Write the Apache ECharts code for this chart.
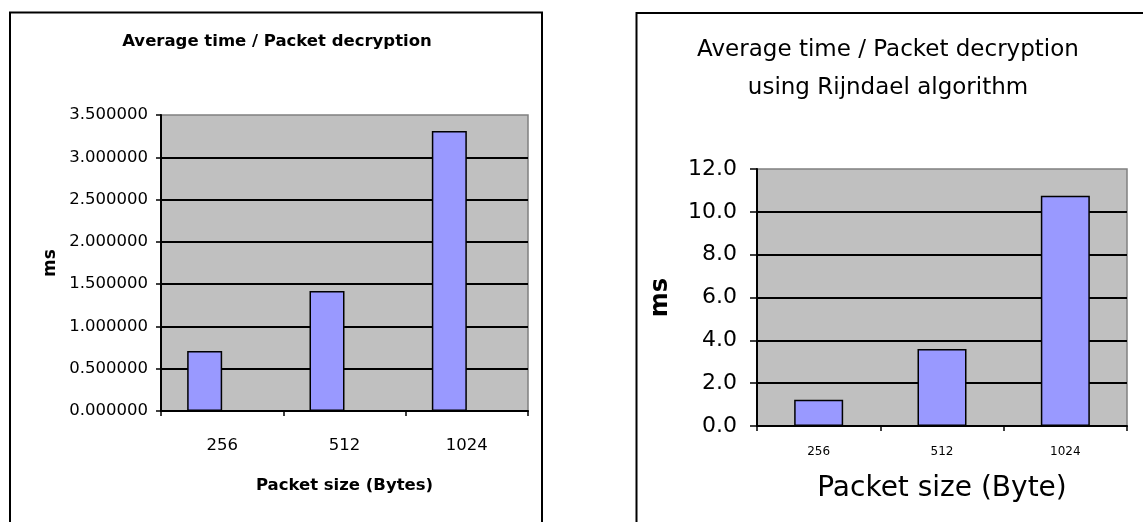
<!DOCTYPE html>
<html>
<head>
<meta charset="utf-8">
<script src="https://cdn.jsdelivr.net/npm/echarts@6/dist/echarts.min.js"></script>
<style>
html,body{margin:0;padding:0;background:#fff;}
#c{width:1143px;height:522px;}
</style>
</head>
<body>
<div id="c"></div>
<script>
// Left chart data
const leftCategories = ['256', '512', '1024'];
const leftValues = [0.71, 1.42, 3.31];
const leftEmptySeries = [null, null, null];
const leftYMin = 0, leftYMax = 3.5, leftYStep = 0.5;

// Right chart data
const rightCategories = ['256', '512', '1024'];
const rightValues = [1.22, 3.6, 10.75];
const rightYMin = 0, rightYMax = 12, rightYStep = 2;

const FONT = 'DejaVu Sans';
const BAR = '#9999FF';
const PLOT = '#C0C0C0';

const chart = echarts.init(document.getElementById('c'), null, {renderer: 'canvas'});
chart.setOption({
  animation: false,
  backgroundColor: '#ffffff',
  textStyle: {fontFamily: FONT, color: '#000'},
  graphic: [
    {type: 'rect', shape: {x: 10, y: 12.5, width: 532, height: 600}, style: {fill: 'none', stroke: '#000', lineWidth: 2}, z: 100},
    {type: 'rect', shape: {x: 636.5, y: 13, width: 600, height: 600}, style: {fill: 'none', stroke: '#000', lineWidth: 2}, z: 100}
  ],
  title: [
    {text: 'Average time / Packet decryption', left: 277, top: 33, textAlign: 'center', padding: 0,
     textStyle: {fontFamily: FONT, fontWeight: 'bold', fontSize: 16.5, color: '#000'}},
    {text: 'Average time / Packet decryption\nusing Rijndael algorithm', left: 888, top: 31, textAlign: 'center', padding: 0,
     textStyle: {fontFamily: FONT, fontWeight: 'normal', fontSize: 23, lineHeight: 38, color: '#000'}}
  ],
  grid: [
    {left: 161, top: 115, width: 367, height: 296, show: true, backgroundColor: PLOT, borderColor: '#808080', borderWidth: 1.5},
    {left: 757, top: 169, width: 370, height: 257, show: true, backgroundColor: PLOT, borderColor: '#808080', borderWidth: 1.5}
  ],
  xAxis: [
    {type: 'category', gridIndex: 0, data: leftCategories,
     axisLine: {lineStyle: {color: '#000', width: 2}},
     axisTick: {show: true, length: 5, alignWithLabel: false, lineStyle: {color: '#000', width: 1.5}},
     axisLabel: {interval: 0, margin: 26, fontFamily: FONT, fontSize: 16.5, color: '#000'},
     name: 'Packet size (Bytes)', nameLocation: 'middle', nameGap: 66,
     nameTextStyle: {fontFamily: FONT, fontWeight: 'bold', fontSize: 16.5, color: '#000'}},
    {type: 'category', gridIndex: 1, data: rightCategories,
     axisLine: {lineStyle: {color: '#000', width: 2}},
     axisTick: {show: true, length: 5, alignWithLabel: false, lineStyle: {color: '#000', width: 1.5}},
     axisLabel: {interval: 0, margin: 20, fontFamily: FONT, fontSize: 12, color: '#000'},
     name: 'Packet size (Byte)', nameLocation: 'middle', nameGap: 49,
     nameTextStyle: {fontFamily: FONT, fontWeight: 'normal', fontSize: 28, color: '#000'}}
  ],
  yAxis: [
    {type: 'value', gridIndex: 0, min: leftYMin, max: leftYMax, interval: leftYStep,
     axisLine: {show: true, lineStyle: {color: '#000', width: 2}},
     axisTick: {show: true, length: 5, lineStyle: {color: '#000', width: 1.5}},
     axisLabel: {margin: 13, fontFamily: FONT, fontSize: 16.5, color: '#000', formatter: v => v.toFixed(6)},
     splitLine: {show: true, showMaxLine: false, lineStyle: {color: '#000', width: 2}},
     name: 'ms', nameLocation: 'middle', nameGap: 102,
     nameTextStyle: {fontFamily: FONT, fontWeight: 'bold', fontSize: 17, color: '#000'}},
    {type: 'value', gridIndex: 1, min: rightYMin, max: rightYMax, interval: rightYStep,
     axisLine: {show: true, lineStyle: {color: '#000', width: 2}},
     axisTick: {show: true, length: 7, lineStyle: {color: '#000', width: 1.5}},
     axisLabel: {margin: 20, fontFamily: FONT, fontSize: 22, color: '#000', formatter: v => v.toFixed(1)},
     splitLine: {show: true, showMaxLine: false, lineStyle: {color: '#000', width: 2}},
     name: 'ms', nameLocation: 'middle', nameGap: 84,
     nameTextStyle: {fontFamily: FONT, fontWeight: 'bold', fontSize: 24, color: '#000'}}
  ],
  series: [
    {type: 'bar', xAxisIndex: 0, yAxisIndex: 0, data: leftValues, barWidth: 35, barGap: '0%',
     itemStyle: {color: BAR, borderColor: '#000', borderWidth: 1.5}},
    {type: 'bar', xAxisIndex: 0, yAxisIndex: 0, data: leftEmptySeries, barWidth: 35, barGap: '0%',
     itemStyle: {color: BAR, borderColor: '#000', borderWidth: 1.5}},
    {type: 'bar', xAxisIndex: 1, yAxisIndex: 1, data: rightValues, barWidth: 49,
     itemStyle: {color: BAR, borderColor: '#000', borderWidth: 1.5}}
  ]
});
</script>
</body>
</html>
